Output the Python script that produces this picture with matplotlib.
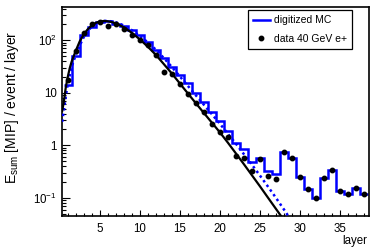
import matplotlib
matplotlib.use('Agg')
import matplotlib.pyplot as plt
import numpy as np
from matplotlib.lines import Line2D
from matplotlib.ticker import FixedLocator, NullFormatter, LogLocator, MultipleLocator

plt.rcParams['font.family'] = ['Liberation Sans', 'DejaVu Sans']
plt.rcParams['mathtext.fontset'] = 'custom'
plt.rcParams['mathtext.rm'] = 'Liberation Sans'
plt.rcParams['mathtext.it'] = 'Liberation Sans:italic'

# ---- data ----
layers = list(range(1, 39))
data_values = [17.4, 63, 134, 207, 222, 190, 200, 160, 128, 103,
               80, 52, 24.4, 22.6, 14.6, 9.3, 6.3, 4.25, 2.6, 1.8,
               1.43, 0.64, 0.57, 0.33, 0.55, 0.26, 0.23, 0.75, 0.57, 0.25,
               0.147, 0.099, 0.24, 0.34, 0.138, 0.118, 0.151, 0.118]
mc_values = [14, 50, 124, 180, 224, 230, 207, 185, 155, 124,
             93, 65, 45, 31, 21.7, 15, 9.7, 6.8, 4.3, 2.85,
             1.9, 1.1, 0.85, 0.49, 0.58, 0.33, 0.29, 0.75, 0.57, 0.25,
             0.15, 0.099, 0.24, 0.34, 0.138, 0.118, 0.151, 0.118]

fit_data_x = [0.3, 0.5, 0.75, 1.0, 1.25, 1.5, 2.0, 2.5, 3.0, 3.5, 4.0, 4.5, 5.0, 5.5,
              6.0, 6.5, 7, 8, 9, 10, 11, 12, 13, 14, 15, 16, 17, 18, 19, 20,
              21, 22, 23, 24, 25, 26, 27, 27.7]
fit_data_y = [4.5, 6.6, 12.6, 20, 29.5, 39.8, 63, 95.5, 129, 162, 190.5, 214, 226, 232,
              229, 221, 209, 176, 138, 103.5, 75, 52.5, 35, 23.2, 15, 9.7, 6.3, 4.12, 2.69, 1.76,
              1.12, 0.70, 0.436, 0.269, 0.166, 0.101, 0.0617, 0.0437]

fit_mc_x = [0.3, 0.5, 0.75, 1.0, 1.5, 2.0, 2.5, 3.0, 3.5, 4.0, 4.5, 5.0, 5.5, 6.0,
            7, 8, 9, 10, 11, 12, 13, 14, 15, 16, 17, 18, 19, 20,
            21, 22, 23, 24, 25, 26, 27, 28, 28.6]
fit_mc_y = [2.8, 4.5, 8.5, 14.8, 31.6, 52.5, 79.4, 115, 148, 182, 209, 224, 232, 234,
            219, 190.5, 155, 120, 91, 66, 45.7, 30.9, 20.4, 13.5, 8.9, 5.9, 3.9, 2.57,
            1.66, 1.07, 0.676, 0.427, 0.266, 0.164, 0.1, 0.060, 0.0437]

ytick_vals = [0.1, 1, 10, 100]
ytick_labels = ['$10^{-1}$', '1', '10', '$10^{2}$']
xtick_vals = [5, 10, 15, 20, 25, 30, 35]

# ---- figure ----
fig = plt.figure(figsize=(3.7, 2.47), dpi=100)
ax = fig.add_axes([0.168, 0.127, 0.829, 0.843])
ax.set_yscale('log')

edges = np.append(np.array(layers) - 0.5, layers[-1] + 0.5)
ax.stairs(mc_values, edges, baseline=None, color='#0000ff', lw=1.8, zorder=2)
ax.plot(fit_mc_x, fit_mc_y, color='#0000ff', lw=1.8, ls=(0, (1, 1.3)), zorder=3)
ax.plot(fit_data_x, fit_data_y, color='black', lw=1.6, zorder=4)
ax.plot(layers, data_values, 'o', color='black', ms=3.2, zorder=5)

ax.set_xlim(0.3, 38.6)
ax.set_ylim(0.046, 420)

ax.xaxis.set_major_locator(FixedLocator(xtick_vals))
ax.xaxis.set_minor_locator(MultipleLocator(1))
ax.set_xticklabels([str(v) for v in xtick_vals])
ax.yaxis.set_major_locator(FixedLocator(ytick_vals))
ax.set_yticklabels(ytick_labels)
ax.yaxis.set_minor_locator(LogLocator(base=10, subs=np.arange(2, 10)))
ax.yaxis.set_minor_formatter(NullFormatter())

ax.tick_params(axis='both', which='both', direction='in', top=False, right=False,
               labelsize=8.3, width=0.8)
ax.tick_params(axis='x', which='major', length=4, pad=5)
ax.tick_params(axis='x', which='minor', length=2)
ax.tick_params(axis='y', which='major', length=6, pad=4)
ax.tick_params(axis='y', which='minor', length=3)
for s in ax.spines.values():
    s.set_linewidth(1.2)

fig.text(12 / 370, 1 - 107 / 247, r'E$_{\mathrm{sum}}$ [MIP] / event / layer',
         rotation=90, ha='center', va='center', fontsize=10)
fig.text(367 / 370, 1 - 241 / 247, 'layer', ha='right', va='center', fontsize=8.3)

handles = [Line2D([], [], color='#0000ff', lw=1.8),
           Line2D([], [], color='black', marker='o', ls='none', ms=3.2)]
leg = ax.legend(handles, ['digitized MC', 'data 40 GeV e+'], loc='upper left',
                bbox_to_anchor=(247.7 / 370, 1 - 10 / 247), bbox_transform=fig.transFigure,
                fancybox=False, edgecolor='black', framealpha=1, fontsize=7.5,
                borderaxespad=0, borderpad=0.5, handlelength=1.6, handletextpad=0.45,
                labelspacing=0.85)
leg.get_frame().set_linewidth(0.9)

fig.savefig('out.png', dpi=100)
